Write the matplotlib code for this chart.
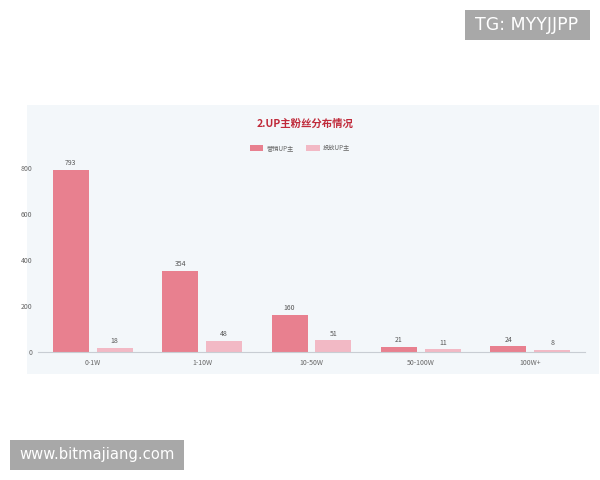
import numpy as np
import matplotlib
matplotlib.use("Agg")
import matplotlib.pyplot as plt
from matplotlib.patches import Rectangle

plt.rcParams['font.family'] = ['Noto Sans CJK SC', 'DejaVu Sans']

# данные графика
categories = ["0-1W", "1-10W", "10-50W", "50-100W", "100W+"]
series_names = ["营销UP主", "投放UP主"]
marketing = [793, 354, 160, 21, 24]
placement = [18, 48, 51, 11, 8]
y_ticks = [0, 200, 400, 600, 800]

COL_A = "#e8808f"
COL_B = "#f2b9c5"

W, H = 600, 480


def fx(px):
    return px / W


def fy(py):
    return 1 - py / H


fig = plt.figure(figsize=(6, 4.8), dpi=100)
fig.patch.set_facecolor("white")

# фон вставленного скриншота
fig.patches.append(Rectangle((fx(27), fy(374)), fx(599) - fx(27), fy(105) - fy(374),
                             transform=fig.transFigure, facecolor="#f3f7fa",
                             edgecolor="none", zorder=-1))

ax = fig.add_axes([fx(38), fy(352), fx(585) - fx(38), fy(168) - fy(352)])
ax.set_facecolor("none")

x = np.arange(len(categories))
w = 0.33
b1 = ax.bar(x - 0.2, marketing, width=w, color=COL_A, label=series_names[0], zorder=2)
b2 = ax.bar(x + 0.2, placement, width=w, color=COL_B, label=series_names[1], zorder=2)

for bars, vals in ((b1, marketing), (b2, placement)):
    for r, v in zip(bars, vals):
        ax.text(r.get_x() + r.get_width() / 2, v + 12, str(v), ha="center", va="bottom",
                fontsize=5, color="#555555", clip_on=False)

ax.set_xlim(-0.5, len(categories) - 0.5)
ax.set_ylim(0, 800)
ax.set_yticks(y_ticks)
ax.set_yticklabels([str(t) for t in y_ticks], fontsize=5, color="#666666")
ax.set_xticks(x)
ax.set_xticklabels(categories, fontsize=5, color="#666666")
ax.tick_params(length=0, pad=5)
ax.tick_params(axis="y", pad=4)
for s in ("top", "right", "left"):
    ax.spines[s].set_visible(False)
ax.spines["bottom"].set_color("#c8cdd3")
ax.spines["bottom"].set_linewidth(0.8)
ax.spines["bottom"].set_zorder(3)

fig.text(fx(305), fy(124), "2.UP主粉丝分布情况", ha="center", va="center",
         fontsize=7.5, fontweight="bold", color="#c02a3a")

fig.legend(handles=[b1, b2], labels=series_names, loc="center",
           bbox_to_anchor=(fx(300), fy(148)), ncol=2, frameon=False,
           fontsize=4.5, handlelength=2.2, handleheight=1.2, columnspacing=2.0,
           handletextpad=0.5, labelcolor="#666666")

# водяные знаки
fig.patches.append(Rectangle((fx(465), fy(40)), fx(590) - fx(465), fy(10) - fy(40),
                             transform=fig.transFigure, facecolor="#a8a8a8",
                             edgecolor="none", zorder=5))
fig.text(fx(527), fy(25), "TG: MYYJJPP", ha="center", va="center",
         fontsize=12.5, color="white", family="DejaVu Sans", zorder=6)

fig.patches.append(Rectangle((fx(10), fy(470)), fx(184) - fx(10), fy(440) - fy(470),
                             transform=fig.transFigure, facecolor="#a8a8a8",
                             edgecolor="none", zorder=5))
fig.text(fx(97), fy(455), "www.bitmajiang.com", ha="center", va="center",
         fontsize=10.6, color="white", family="DejaVu Sans", zorder=6)

fig.savefig("out.png", dpi=100)
